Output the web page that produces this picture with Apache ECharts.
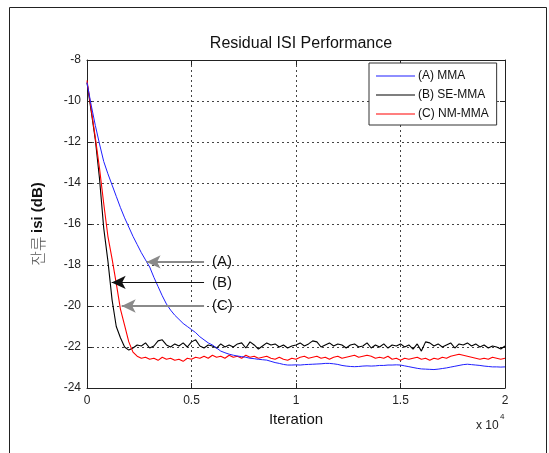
<!DOCTYPE html>
<html>
<head>
<meta charset="utf-8">
<script src="https://cdn.jsdelivr.net/npm/echarts@6/dist/echarts.min.js"></script>
<style>
  html, body { margin: 0; padding: 0; background: #fff; }
  #chart { width: 549px; height: 453px; }
</style>
</head>
<body>
<div id="chart"></div>
<script>
// iterations are sampled every 200 steps, 0 .. 20000
const step = 200;

const isiMMA = [
  -9.1, -10.2, -11.2, -12.1, -12.95, -13.55, -14.1, -14.65, -15.2, -15.7,
  -16.15, -16.6, -17.0, -17.4, -17.75, -18.1, -18.6, -19.05, -19.5, -19.9,
  -20.2, -20.45, -20.65, -20.85, -21.0, -21.15, -21.3, -21.5, -21.65, -21.8,
  -21.9, -22.05, -22.2, -22.28, -22.35, -22.4, -22.44, -22.47, -22.5, -22.55,
  -22.57, -22.6, -22.62, -22.64, -22.7, -22.76, -22.8, -22.85, -22.88, -22.88,
  -22.87, -22.88, -22.86, -22.85, -22.84, -22.83, -22.82, -22.8, -22.8, -22.82,
  -22.85, -22.9, -22.93, -22.95, -22.96, -22.95, -22.93, -22.92, -22.93, -22.92,
  -22.9, -22.9, -22.88, -22.88, -22.87, -22.88, -22.92, -22.96, -23.0, -23.04,
  -23.07, -23.08, -23.09, -23.1, -23.08, -23.05, -23.02, -22.98, -22.94, -22.9,
  -22.86, -22.84, -22.86, -22.88, -22.9, -22.93, -22.95, -22.97, -22.97, -22.98,
  -22.97
];

const isiSEMMA = [
  -9.1, -10.5, -11.9, -13.8, -16.2, -17.8, -19.7, -21.0, -21.55, -22.0,
  -22.15, -22.05, -21.9, -21.95, -21.8, -22.05, -21.95, -21.7, -21.65, -21.9,
  -22.0, -21.85, -21.95, -21.8, -22.0, -21.75, -21.65, -21.95, -22.05, -21.9,
  -21.95, -22.05, -21.85, -22.0, -21.9, -22.0, -21.85, -21.8, -22.05, -21.75,
  -21.9, -22.1, -21.95, -21.8, -21.9, -21.85, -22.0, -21.9, -22.05, -21.95,
  -21.9, -21.8, -21.95, -21.85, -21.7, -21.75, -22.0, -21.9, -21.8, -21.95,
  -21.85, -21.9, -22.05, -21.9, -21.85, -22.0, -21.95, -21.8, -22.05, -21.9,
  -22.0, -21.85, -22.05, -21.9, -21.95, -21.85, -22.0, -21.9, -22.1, -21.85,
  -22.2, -21.75, -21.8, -21.95, -21.85, -22.0, -21.9, -21.8, -22.05, -21.85,
  -21.9, -21.8, -21.95, -21.85, -22.0, -21.9, -22.05, -21.95, -22.0, -22.1,
  -21.95
];

const isiNMMMA = [
  -9.0, -10.4, -11.8, -13.3, -15.0, -16.6, -17.7, -18.9, -20.15, -20.95,
  -21.75, -22.25, -22.45, -22.55, -22.5, -22.6, -22.55, -22.65, -22.5, -22.6,
  -22.55, -22.65, -22.6, -22.7, -22.55, -22.6, -22.5, -22.55, -22.45, -22.55,
  -22.4, -22.5, -22.45, -22.55, -22.4, -22.5, -22.45, -22.55, -22.4, -22.5,
  -22.45, -22.55, -22.5, -22.45, -22.55, -22.6, -22.5, -22.6, -22.65, -22.55,
  -22.6, -22.5, -22.45, -22.55, -22.5, -22.45, -22.55, -22.5, -22.6, -22.5,
  -22.45, -22.55, -22.5, -22.45, -22.4, -22.5, -22.45, -22.4, -22.45, -22.55,
  -22.5, -22.55, -22.45, -22.6, -22.55, -22.65, -22.55, -22.6, -22.55, -22.5,
  -22.6, -22.55, -22.65, -22.55, -22.6, -22.5, -22.55, -22.45, -22.4, -22.35,
  -22.4, -22.45, -22.5, -22.55, -22.6, -22.55, -22.6, -22.5, -22.55, -22.6,
  -22.55
];

const seriesNames = ['(A) MMA', '(B) SE-MMA', '(C) NM-MMA'];
const xTicks = ['0', '0.5', '1', '1.5', '2'];

// arrow annotations: label, tail x, head x, y
const arrowLabels = ['(A)', '(B)', '(C)'];
const arrowTailX = [5600, 5600, 5600];
const arrowHeadX = [2850, 1180, 1660];
const arrowY = [-17.85, -18.85, -20.0];

const toPairs = arr => arr.map((v, i) => [i * step, v]);

const font = "'Liberation Sans', Arial, sans-serif";
const chart = echarts.init(document.getElementById('chart'));

const arrowColors = ['#8a8a8a', '#111', '#8a8a8a'];
const arrowWidths = [2, 1.2, 2];

const option = {
  animation: false,
  backgroundColor: '#fff',
  textStyle: { fontFamily: font },
  title: {
    text: 'Residual ISI Performance',
    left: 296,
    textAlign: 'center',
    top: 31,
    textStyle: { fontSize: 16, fontWeight: 'normal', color: '#111', fontFamily: font }
  },
  grid: { left: 87, right: 44, top: 60, bottom: 65 },
  legend: {
    data: seriesNames,
    orient: 'vertical',
    left: 369,
    top: 63,
    padding: [6, 8, 4, 7],
    itemGap: 5,
    itemWidth: 39,
    itemHeight: 1,
    icon: 'rect',
    backgroundColor: '#fff',
    borderColor: '#333',
    borderWidth: 1,
    textStyle: { fontSize: 12, color: '#111', fontFamily: font, lineHeight: 14, padding: [0, 0, 0, -2] }
  },
  xAxis: [
    {
      type: 'value',
      min: 0,
      max: 20000,
      interval: 5000,
      name: 'Iteration',
      nameLocation: 'middle',
      nameGap: 24,
      nameTextStyle: { fontSize: 15, color: '#111', fontFamily: font },
      axisLine: { show: true, lineStyle: { color: '#222', width: 1 } },
      axisTick: { show: true, inside: true, length: 5, lineStyle: { color: '#222' } },
      axisLabel: {
        fontSize: 12, color: '#222', margin: 7,
        formatter: v => xTicks[Math.round(v / 5000)]
      },
      splitLine: { show: true, lineStyle: { color: '#444', type: [2, 3], width: 1 } }
    },
    {
      type: 'value',
      position: 'top',
      min: 0,
      max: 20000,
      interval: 5000,
      axisLine: { show: true, onZero: false, lineStyle: { color: '#222' } },
      axisTick: { show: true, inside: true, length: 5, lineStyle: { color: '#222' } },
      axisLabel: { show: false },
      splitLine: { show: false }
    }
  ],
  yAxis: [
    {
      type: 'value',
      min: -24,
      max: -8,
      interval: 2,
      name: '{k|잔류} {e|isi (dB)}',
      nameLocation: 'middle',
      nameGap: 41,
      nameTextStyle: {
        rich: {
          k: { fontSize: 16, color: '#555', fontFamily: "'Noto Sans CJK KR'", fontWeight: 300 },
          e: { fontSize: 15, color: '#111', fontFamily: font, fontWeight: 'bold' }
        }
      },
      axisLine: { show: true, onZero: false, lineStyle: { color: '#222', width: 1 } },
      axisTick: { show: true, inside: true, length: 5, lineStyle: { color: '#222' } },
      axisLabel: { fontSize: 12, color: '#222', margin: 6 },
      splitLine: { show: true, lineStyle: { color: '#444', type: [2, 3], width: 1 } }
    },
    {
      type: 'value',
      position: 'right',
      min: -24,
      max: -8,
      interval: 2,
      axisLine: { show: true, onZero: false, lineStyle: { color: '#222' } },
      axisTick: { show: true, inside: true, length: 5, lineStyle: { color: '#222' } },
      axisLabel: { show: false },
      splitLine: { show: false }
    }
  ],
  series: [
    {
      name: seriesNames[0],
      type: 'line',
      data: toPairs(isiMMA),
      symbol: 'none',
      lineStyle: { color: '#1f1fff', width: 1 },
      itemStyle: { color: '#1f1fff' },
      z: 3,
      markLine: {
        silent: true,
        symbol: ['none', 'arrow'],
        symbolSize: [10, 14],
        data: arrowLabels.map((t, i) => [
          {
            coord: [arrowTailX[i], arrowY[i]],
            lineStyle: { color: arrowColors[i], width: arrowWidths[i], type: 'solid' },
            itemStyle: { color: arrowColors[i] },
            label: {
              show: true, position: 'start', formatter: t, distance: 8,
              fontSize: 15, color: '#111', fontFamily: font
            }
          },
          { coord: [arrowHeadX[i], arrowY[i]] }
        ])
      }
    },
    {
      name: seriesNames[1],
      type: 'line',
      data: toPairs(isiSEMMA),
      symbol: 'none',
      lineStyle: { color: '#000', width: 1.1 },
      itemStyle: { color: '#000' },
      z: 2
    },
    {
      name: seriesNames[2],
      type: 'line',
      data: toPairs(isiNMMMA),
      symbol: 'none',
      lineStyle: { color: '#ff0000', width: 1.1 },
      itemStyle: { color: '#ff0000' },
      z: 2
    }
  ],
  graphic: [
    {
      type: 'rect',
      shape: { x: 9.5, y: 7.5, width: 537, height: 460 },
      style: { fill: 'none', stroke: '#222', lineWidth: 1 },
      silent: true
    },
    {
      type: 'text', left: 476, top: 420,
      style: { text: 'x 10', fontSize: 12, fill: '#222', fontFamily: font }
    },
    {
      type: 'text', left: 500, top: 413,
      style: { text: '4', fontSize: 8, fill: '#222', fontFamily: font }
    }
  ]
};

chart.setOption(option);
</script>
</body>
</html>
